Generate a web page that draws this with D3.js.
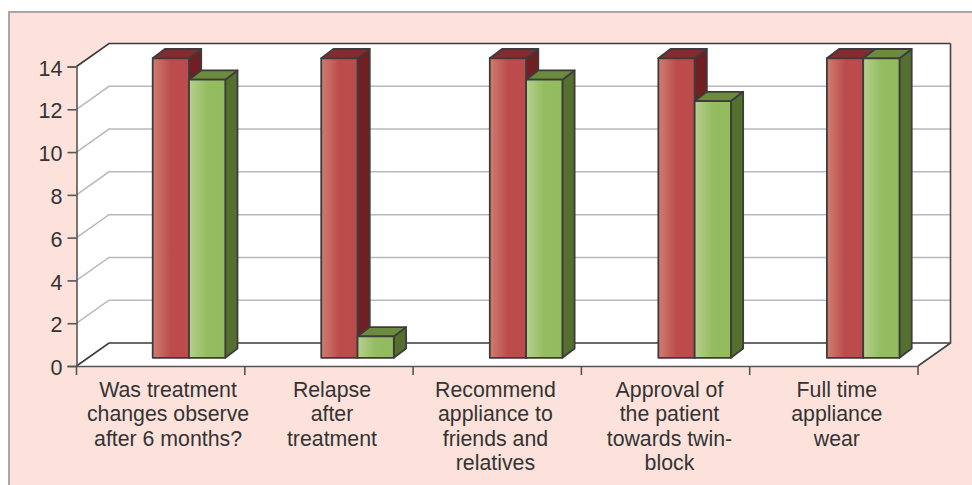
<!DOCTYPE html>
<html>
<head>
<meta charset="utf-8">
<style>
html, body { margin: 0; padding: 0; background: #fff; }
svg { display: block; }
text { font-family: "Liberation Sans", Arial, sans-serif; fill: #333; }
</style>
<script src="https://cdn.jsdelivr.net/npm/d3@7"></script>
</head>
<body>
<svg id="chart" width="972" height="485"></svg>
<script>
// Survey responses per question, drawn as a two-series 3-D column chart.
const categories = [
  ["Was treatment", "changes observe", "after 6 months?"],
  ["Relapse", "after", "treatment"],
  ["Recommend", "appliance to", "friends and", "relatives"],
  ["Approval of", "the patient", "towards twin-", "block"],
  ["Full time", "appliance", "wear"]
];
const seriesA = [14, 14, 14, 14, 14];
const seriesB = [13, 1, 13, 12, 14];
const yTicks = [0, 2, 4, 6, 8, 10, 12, 14];

const svg = d3.select("#chart");
const defs = svg.append("defs");

// Front plane of the plot box and the oblique offset of its back wall.
const left = 76.5, right = 918, base = 366, top14 = 66.5;
const wallDx = 32.5, wallDy = -23;

// Column geometry: nearest face sits part way into the box, with a shallow depth.
const barDx = 12.2, barDy = -9.3, barBaseLift = 8.2, barW = 36.3;

const y = d3.scaleLinear().domain([0, 14]).range([base, top14]);
const x = d3.scaleBand().domain(d3.range(categories.length)).range([left, right]);
// Columns repeat on a slightly wider pitch than the axis divisions.
const barSlot = d3.scaleBand().domain(x.domain()).range([152.7, 152.7 + 5 * 168.55]);
// Caption centres drift a little from the middle of each division.
const captionShift = [7.4, 3, -1.8, 3.9, 3];

function shade(id, from, mid, to) {
  const g = defs.append("linearGradient").attr("id", id);
  g.append("stop").attr("offset", "0%").attr("stop-color", from);
  g.append("stop").attr("offset", "50%").attr("stop-color", mid);
  g.append("stop").attr("offset", "100%").attr("stop-color", to);
}
shade("redFace", "#d07d70", "#bc4c4c", "#bc4b4b");
shade("greenFace", "#b6d08f", "#94bc60", "#92bb5e");

// Page panel
svg.append("rect").attr("x", 0).attr("y", 0).attr("width", 972).attr("height", 485).attr("fill", "#fff");
svg.append("rect").attr("x", 9).attr("y", 12).attr("width", 972).attr("height", 485)
  .attr("fill", "#fde2dc").attr("stroke", "#a8a8a8").attr("stroke-width", 2);

// Plot box: back wall, floor and left wall
const path = pts => "M" + pts.map(p => p.join(",")).join("L") + "Z";
svg.append("path")
  .attr("d", path([[left, base], [left, top14], [left + wallDx, top14 + wallDy],
    [right + wallDx, top14 + wallDy], [right + wallDx, base + wallDy], [right, base]]))
  .attr("fill", "#fff");

// Gridlines run up the left wall and across the back wall
const gridG = svg.append("g").attr("fill", "none");
yTicks.forEach(v => {
  const strong = v === 0 || v === 14;
  gridG.append("path")
    .attr("d", `M${left},${y(v)}L${left + wallDx},${y(v) + wallDy}L${right + wallDx},${y(v) + wallDy}`)
    .attr("stroke", strong ? "#3a3a3a" : "#b9b9bd")
    .attr("stroke-width", strong ? 1.6 : 1.5);
});
gridG.append("path")
  .attr("d", `M${right},${base}L${right + wallDx},${base + wallDy}V${top14 + wallDy}`)
  .attr("stroke", "#444").attr("stroke-width", 1.6);

// Columns, back-to-front within each group
function drawBar(g, x0, value, face, topFill, sideFill) {
  const yb = y(0) - barBaseLift, yt = y(value) - barBaseLift;
  const x1 = x0 + barW;
  const add = (d, fill) => g.append("path").attr("d", d).attr("fill", fill)
    .attr("stroke", "#3c3c3c").attr("stroke-width", 1.8).attr("stroke-linejoin", "round");
  add(path([[x1, yb], [x1, yt], [x1 + barDx, yt + barDy], [x1 + barDx, yb + barDy]]), sideFill);
  add(path([[x0, yt], [x0 + barDx, yt + barDy], [x1 + barDx, yt + barDy], [x1, yt]]), topFill);
  add(path([[x0, yb], [x0, yt], [x1, yt], [x1, yb]]), face);
}

const bars = svg.append("g");
categories.forEach((_, i) => {
  const g = bars.append("g");
  const x0 = barSlot(i);
  drawBar(g, x0, seriesA[i], "url(#redFace)", "#842b2f", "#701f23");
  drawBar(g, x0 + barW, seriesB[i], "url(#greenFace)", "#6c8b3f", "#556f2f");
});

// Axes
const yAxis = svg.append("g").attr("transform", `translate(${left},0)`)
  .call(d3.axisLeft(y).tickValues(yTicks).tickSize(9).tickPadding(5));
const xAxis = svg.append("g").attr("transform", `translate(0,${base})`)
  .call(d3.axisBottom(x).tickFormat("").tickValues([]).tickSizeOuter(0));
x.domain().concat(categories.length).forEach(i => {
  const px = i < categories.length ? x(i) : right;
  xAxis.append("line").attr("x1", px).attr("x2", px).attr("y1", 0).attr("y2", 9)
    .attr("stroke", "#555").attr("stroke-width", 1.6);
});
[yAxis, xAxis].forEach(a => {
  a.selectAll(".domain").attr("stroke", "#555").attr("stroke-width", 1.6);
  a.selectAll(".tick line").attr("stroke", "#555").attr("stroke-width", 1.6);
});
yAxis.selectAll("text").attr("font-size", 21.5).attr("dy", "0.40em")
  .style("font-family", "Liberation Sans").attr("fill", "#333");

// Category captions
categories.forEach((lines, i) => {
  const cx = x(i) + x.bandwidth() / 2 + captionShift[i];
  const t = svg.append("text").attr("text-anchor", "middle").attr("font-size", 21.3)
    .attr("x", cx).attr("y", 397);
  lines.forEach((line, k) => {
    t.append("tspan").attr("x", cx).attr("dy", k === 0 ? 0 : 24.3).text(line);
  });
});
</script>
</body>
</html>
